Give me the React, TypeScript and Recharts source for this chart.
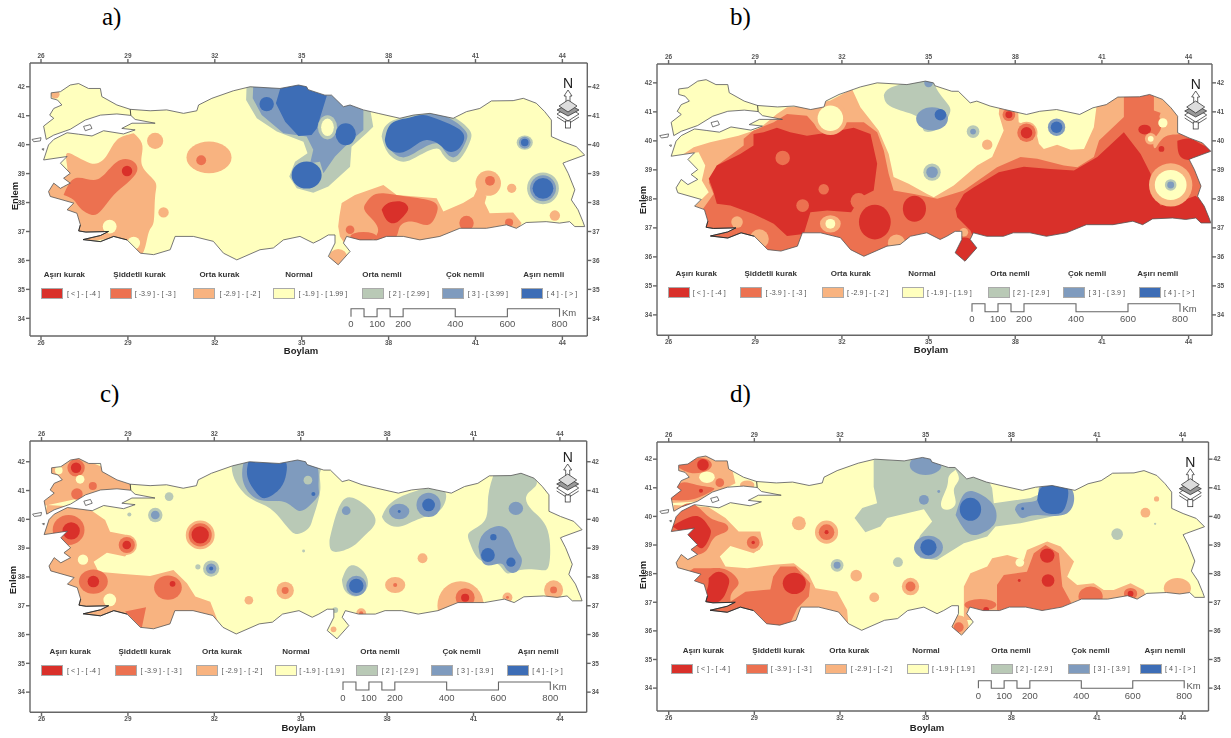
import React from 'react';
import { ComposedChart, XAxis, YAxis, Area, Line, Scatter } from 'recharts';

type Pt = [number, number];
type Cls = 'R' | 'D' | 'O' | 'N' | 'G' | 'M' | 'B';
type Region = { cls: Cls; pts: Pt[]; sharp?: boolean };
type Spot = [number, number, number, Cls, number?];

const COLORS: Record<Cls, string> = { R: '#D9302A', D: '#EC7150', O: '#F8B380', N: '#FFFFBE', G: '#B9C9B6', M: '#7F9BBE', B: '#3D6DB6' };
const LON_TICKS = [26, 29, 32, 35, 38, 41, 44];
const LAT_TICKS = [34, 35, 36, 37, 38, 39, 40, 41, 42];
const HEADERS = ['Aşırı kurak', 'Şiddetli kurak', 'Orta kurak', 'Normal', 'Orta nemli', 'Çok nemli', 'Aşırı nemli'];
const CLASS_ORDER: Cls[] = ['R', 'D', 'O', 'N', 'G', 'M', 'B'];
const LABELS_A = ['[ < ] - [ -4 ]', '[ -3.9 ] - [ -3 ]', '[ -2.9 ] - [ -2 ]', '[ -1.9 ] - [ 1.99 ]', '[ 2 ] - [ 2.99 ]', '[ 3 ] - [ 3.99 ]', '[ 4 ] - [ > ]'];
const LABELS_B = ['[ < ] - [ -4 ]', '[ -3.9 ] - [ -3 ]', '[ -2.9 ] - [ -2 ]', '[ -1.9 ] - [ 1.9 ]', '[ 2 ] - [ 2.9 ]', '[ 3 ] - [ 3.9 ]', '[ 4 ] - [ > ]'];
const LABELS_D = ['[ < ] - [ -4 ]', '[ -3.9 ] - [ -3 ]', '[ -2.9 ] - [ -2 ]', '[ -1.9 ]- [ 1.9 ]', '[ 2 ] - [ 2.9 ]', '[ 3 ] - [ 3.9 ]', '[ 4 ] - [ > ]'];
const SCALE_KM = [0, 50, 100, 150, 200, 400, 600, 800];
const SCALE_LABELS = [0, 100, 200, 400, 600, 800];

const COAST: Pt[] = [
  [26.09, 40.64], [26.44, 40.91], [26.3, 41.02], [26.44, 41.25], [26.72, 41.37], [26.57, 41.54], [26.35, 41.6], [26.35, 41.79], [26.67, 41.83], [27.01, 42.06], [27.3, 42.11], [27.64, 41.94], [28.05, 41.94], [28.1, 41.66], [28.62, 41.37], [29.08, 41.22], [29.77, 41.17], [30.34, 41.2], [30.92, 41.08], [31.38, 41.17], [31.44, 41.37], [31.9, 41.6], [32.64, 41.86], [33.22, 42.0], [34.25, 41.94], [34.89, 42.06], [35.17, 42.0], [35.22, 41.9], [35.8, 41.71], [36.03, 41.71], [36.44, 41.31], [36.67, 41.37], [37.13, 41.2], [37.64, 41.08], [38.39, 40.91], [38.85, 41.02], [39.43, 41.08], [40.23, 40.91], [40.69, 41.14], [41.15, 41.25], [41.55, 41.51], [42.3, 41.52], [42.65, 41.6], [43.1, 41.43], [43.39, 41.14], [43.62, 40.85], [43.62, 40.28], [44.02, 40.1], [44.48, 39.93], [44.77, 39.64],
  [44.14, 39.41], [44.02, 39.36], [44.2, 39.01], [44.43, 38.44], [44.31, 38.09], [44.54, 37.75], [44.71, 37.34], [44.77, 37.17], [44.43, 37.17], [44.25, 37.34], [43.9, 37.29], [43.44, 37.34], [42.75, 37.31], [42.41, 37.11], [42.07, 37.23], [41.38, 37.11], [40.46, 37.11], [39.77, 36.83], [39.08, 36.71], [38.51, 36.83], [37.93, 36.83], [37.59, 36.71], [37.01, 36.71], [36.55, 36.83], [36.44, 36.6], [36.67, 36.31], [36.26, 35.85], [35.92, 36.14], [36.15, 36.6], [36.15, 36.88], [35.92, 36.88], [35.63, 36.71], [35.4, 36.6], [34.94, 36.83], [34.37, 36.71], [34.02, 36.43], [33.56, 36.37], [32.76, 36.02], [32.3, 36.25], [31.95, 36.66], [31.26, 36.83], [30.63, 36.83], [30.46, 36.37], [29.89, 36.2], [29.43, 36.25], [28.97, 36.71], [28.51, 36.83], [28.05, 36.65], [27.45, 36.72], [28.05, 36.86], [28.33, 37.0], [27.55, 36.98], [27.3, 37.02], [27.36, 37.23], [27.24, 37.63], [26.9, 37.75], [27.13, 37.98], [26.32, 38.21], [26.26, 38.38], [26.44, 38.67], [26.67, 38.49], [26.78, 38.55], [27.01, 38.67], [26.78, 38.84], [27.01, 39.01], [26.67, 39.36], [26.9, 39.59], [26.09, 39.47], [26.26, 39.99], [26.44, 40.18], [26.9, 40.41], [27.3, 40.36], [27.76, 40.3], [28.16, 40.48], [28.85, 40.37], [29.25, 40.51], [28.79, 40.56], [29.14, 40.74], [29.94, 40.74], [29.25, 40.87], [29.1, 41.01], [28.62, 41.06], [28.05, 41.02], [27.53, 40.85], [27.01, 40.53], [26.44, 40.33], [26.18, 40.18],
];
const AEGEAN_DARK: Pt[] = [[28.97, 36.71], [28.51, 36.83], [28.05, 36.65], [27.45, 36.72], [28.05, 36.86], [28.33, 37.0], [27.55, 36.98], [27.3, 37.02], [27.36, 37.23]];
const BOSPHORUS: Pt[] = [[29.08, 41.22], [29.1, 41.01]];
const GOKCEADA: Pt[] = [[25.69, 40.18], [26.0, 40.24], [25.98, 40.13], [25.75, 40.1], [25.69, 40.18]];
const BOZCAADA: Pt[] = [[26.03, 39.85], [26.1, 39.86], [26.08, 39.8], [26.03, 39.85]];
const MARMARA_ISLE: Pt[] = [[27.47, 40.63], [27.7, 40.69], [27.76, 40.56], [27.53, 40.48], [27.47, 40.63]];
const MASK_FRAME: Pt[] = [[25.55, 42.9], [25.55, 35.75], [44.98, 35.75], [44.98, 42.9], [25.55, 42.9]];

const regionsA: Region[] = [
  { cls: 'O', pts: [[29.2, 40.39], [29.48, 40.05], [29.48, 39.64], [29.54, 39.18], [29.94, 38.72], [29.94, 38.21], [29.89, 37.34], [29.71, 36.94], [29.45, 36.2], [28.74, 36.71], [27.59, 36.71], [27.01, 37.4], [26.67, 37.98], [26.09, 38.32], [26.32, 38.78], [26.9, 39.01], [26.9, 39.7], [27.7, 39.36], [28.28, 39.64], [28.62, 40.16]] },
  { cls: 'D', pts: [[26.78, 38.26], [27.18, 38.84], [27.82, 38.78], [28.28, 39.07], [28.74, 39.47], [29.2, 39.41], [29.31, 39.07], [28.97, 38.67], [28.51, 38.26], [28.1, 37.75], [27.76, 37.57], [27.36, 37.8], [27.13, 38.09]] },
  { cls: 'O', pts: [[36.26, 37.17], [36.3, 37.52], [36.38, 37.98], [36.84, 38.26], [37.82, 38.61], [38.28, 38.26], [39.66, 38.15], [39.89, 37.69], [40.57, 37.98], [40.94, 38.21], [41.09, 38.55], [41.38, 38.21], [41.32, 37.98], [41.49, 37.63], [42.3, 37.66], [42.59, 37.29], [42.41, 36.94], [40.23, 36.71], [37.93, 36.48], [36.55, 36.48], [36.32, 36.83]], sharp: true },
  { cls: 'D', pts: [[37.18, 37.92], [37.41, 38.21], [37.82, 38.32], [38.62, 38.21], [39.54, 38.03], [39.66, 37.63], [39.37, 37.23], [38.85, 37.34], [38.39, 37.17], [38.16, 36.71], [37.47, 36.6], [37.64, 37.06], [37.24, 37.63]] },
  { cls: 'R', pts: [[37.76, 37.75], [37.99, 37.98], [38.45, 38.03], [38.68, 37.8], [38.51, 37.52], [38.22, 37.29], [37.93, 37.4]] },
  { cls: 'G', pts: [[33.1, 42.11], [33.08, 41.54], [33.45, 40.91], [34.14, 40.45], [35.06, 40.1], [35.2, 39.7], [34.77, 39.41], [34.57, 38.9], [34.83, 38.49], [35.4, 38.34], [35.92, 38.55], [36.67, 39.24], [36.72, 39.93], [37.24, 40.39], [37.47, 40.62], [37.36, 41.25], [35.63, 42.11]], sharp: true },
  { cls: 'M', pts: [[33.33, 42.11], [33.31, 41.6], [33.62, 41.02], [34.37, 40.39], [35.17, 40.28], [35.4, 39.82], [35.29, 39.36], [35.63, 39.41], [35.75, 39.01], [36.15, 39.59], [36.61, 40.05], [37.13, 40.51], [37.13, 41.2], [35.86, 42.11]], sharp: true },
  { cls: 'B', pts: [[34.31, 42.11], [34.11, 41.43], [34.43, 40.79], [34.89, 40.3], [35.34, 40.33], [35.52, 40.56], [35.86, 41.66], [35.86, 42.11]], sharp: true },
  { cls: 'G', pts: [[37.76, 40.28], [37.99, 40.74], [38.74, 41.02], [39.43, 41.14], [40.11, 41.02], [40.75, 40.56], [40.83, 40.16], [40.57, 39.64], [40.23, 39.39], [39.89, 39.64], [39.66, 39.87], [39.08, 39.64], [38.51, 39.41], [37.99, 39.7]] },
  { cls: 'M', pts: [[37.93, 40.22], [38.11, 40.64], [38.8, 40.94], [39.43, 41.06], [40.05, 40.94], [40.63, 40.51], [40.69, 40.16], [40.49, 39.76], [40.23, 39.56], [39.95, 39.76], [39.66, 40.05], [39.08, 39.82], [38.51, 39.56], [38.07, 39.82]] },
  { cls: 'B', pts: [[37.87, 40.16], [38.11, 40.74], [38.74, 40.94], [39.2, 41.02], [39.77, 40.85], [40.4, 40.56], [40.61, 40.22], [40.4, 39.84], [40.06, 39.76], [39.77, 39.99], [39.31, 40.16], [38.85, 39.93], [38.39, 39.72], [37.99, 39.87]] },
];
const spotsA: Spot[] = [
  [28.37, 37.17, 0.24, 'N'], [29.2, 36.6, 0.22, 'N'], [29.94, 40.13, 0.28, 'O'], [30.23, 37.66, 0.18, 'O'], [31.8, 39.56, 0.78, 'O', 0.55], [31.53, 39.46, 0.17, 'D'], [28.97, 39.09, 0.18, 'R'], [26.49, 41.74, 0.15, 'O'],
  [33.79, 41.4, 0.25, 'B'], [35.89, 40.6, 0.33, 'G', 0.42], [35.89, 40.6, 0.22, 'N', 0.3], [36.52, 40.36, 0.35, 'B', 0.38], [35.17, 38.95, 0.52, 'B', 0.47],
  [42.7, 40.07, 0.28, 'G', 0.25], [42.7, 40.07, 0.2, 'M'], [42.7, 40.07, 0.13, 'B'], [43.33, 38.49, 0.55, 'G'], [43.33, 38.49, 0.45, 'M'], [43.33, 38.49, 0.36, 'B'],
  [41.44, 38.67, 0.44, 'O'], [41.5, 38.75, 0.17, 'D'], [42.25, 38.49, 0.16, 'O'], [43.74, 37.55, 0.18, 'O'], [36.26, 36.08, 0.32, 'O'], [36.67, 37.06, 0.15, 'D'], [37.13, 36.83, 0.45, 'D', 0.15], [40.69, 37.29, 0.25, 'D'], [42.16, 37.31, 0.14, 'D'],
];

const regionsB: Region[] = [
  { cls: 'O', sharp: true, pts: [[26.52, 39.55], [26.87, 39.78], [27.44, 39.95], [28.42, 40.18], [29.12, 40.41], [29.75, 40.93], [30.1, 41.16], [30.91, 41.22], [31.6, 41.39], [32.35, 41.79], [32.64, 41.16], [33.27, 40.36], [33.62, 39.55], [33.79, 38.75], [34.31, 38.52], [34.95, 38.17], [35.18, 38.06], [35.87, 38.46], [36.68, 39.15], [37.2, 39.44], [37.6, 40.36], [37.43, 40.93], [37.49, 41.62], [38.07, 41.62], [38.12, 40.64], [38.7, 40.41], [38.82, 39.9], [38.99, 39.72], [39.45, 39.87], [39.92, 39.69], [40.38, 39.72], [40.72, 40.47], [40.87, 41.62], [44.85, 41.62], [44.85, 35.8], [26.2, 35.8], [26.87, 37.71], [27.39, 38.23], [27.15, 38.63], [27.27, 39.15], [27.04, 39.61]] },
  { cls: 'D', sharp: true, pts: [[28.6, 40.07], [28.94, 40.36], [29.64, 40.64], [30.1, 40.93], [30.79, 40.87], [31.25, 40.36], [32.06, 40.64], [32.76, 40.64], [33.22, 40.3], [33.45, 39.67], [33.62, 38.86], [33.79, 38.29], [34.49, 38.17], [35.3, 38], [36.22, 38.29], [37.37, 39.09], [38.18, 39.44], [38.76, 39.38], [39.68, 39.15], [40.15, 39.09], [40.72, 39.44], [40.9, 40.01], [41.76, 40.82], [41.76, 41.62], [42.8, 41.62], [42.8, 41.05], [44.76, 40.36], [44.85, 39], [44.85, 35.8], [26.2, 35.8], [27.15, 37.6], [27.56, 38.17], [27.39, 38.57], [27.67, 39.15], [28.6, 39.84]] },
  { cls: 'O', pts: [[42.99, 40.83], [43.17, 41.13], [43.63, 41.07], [44.03, 40.66], [43.89, 40.26], [43.2, 40.15], [42.85, 39.75], [42.8, 40.03], [43.03, 40.38]] },
  { cls: 'R', pts: [[27.39, 38.69], [27.67, 39.15], [28.48, 39.55], [28.94, 39.84], [28.94, 40.24], [29.29, 40.3], [29.75, 40.45], [30.21, 40.3], [30.79, 40.18], [31.6, 40.3], [32.41, 40.45], [32.99, 40.24], [33.22, 39.21], [33.1, 38.29], [32.64, 38.06], [32.32, 37.54], [31.49, 37.6], [30.91, 37.54], [30.68, 36.79], [30.1, 36.72], [29.64, 37.14], [28.94, 37.48], [28.14, 37.77], [27.67, 37.83], [27.54, 38.29]], sharp: true },
  { cls: 'R', sharp: true, pts: [[35.93, 37.66], [36.22, 38.17], [36.57, 38.4], [37.43, 38.92], [38.3, 39.11], [39.22, 39.03], [40.03, 38.98], [40.84, 39.44], [41.76, 40.3], [42.34, 39.55], [42.69, 38.86], [42.69, 38.29], [43.03, 37.77], [43.96, 38], [44.24, 38.11], [44.85, 37.6], [44.85, 35.99], [39.68, 35.99], [36.8, 35.99], [36.45, 36.91], [35.99, 37.37]] },
  { cls: 'R', pts: [[43.61, 40.0], [44.07, 40.07], [44.53, 39.84], [44.85, 39.67], [44.3, 39.38], [43.73, 39.44]] },
  { cls: 'G', pts: [[33.45, 41.56], [33.79, 41.87], [34.83, 42.14], [35.12, 42.14], [35.35, 41.68], [35.7, 41.22], [35.7, 40.87], [35.3, 40.41], [34.83, 40.36], [34.72, 40.76], [34.03, 41.05], [33.56, 41.28]] },
];
const spotsB: Spot[] = [
  [31.6, 40.78, 0.58, 'O'], [31.6, 40.78, 0.44, 'N'], [28.37, 37.2, 0.2, 'O'], [29.14, 36.62, 0.33, 'O'], [33.89, 36.47, 0.3, 'O'], [31.6, 37.14, 0.36, 'O', 0.3], [31.6, 37.14, 0.17, 'N'],
  [37.03, 39.87, 0.18, 'O'], [36.22, 36.85, 0.15, 'O'], [29.95, 39.41, 0.25, 'D'], [31.37, 38.33, 0.18, 'D'], [30.64, 37.77, 0.22, 'D'], [32.58, 37.92, 0.28, 'D'], [33.14, 37.2, 0.55, 'R', 0.6], [34.51, 37.66, 0.4, 'R', 0.45],
  [36.25, 36.25, 0.42, 'R'], [42.48, 40.39, 0.22, 'R', 0.17], [43.06, 39.72, 0.1, 'R'], [38.39, 40.28, 0.38, 'O'], [38.39, 40.28, 0.32, 'D'], [38.39, 40.28, 0.2, 'R'], [37.78, 40.9, 0.22, 'D'], [37.78, 40.9, 0.12, 'R'],
  [43.11, 40.62, 0.16, 'N'], [42.69, 40.07, 0.2, 'O'], [42.69, 40.07, 0.1, 'N'], [43.38, 38.48, 0.75, 'O'], [43.38, 38.48, 0.55, 'N', 0.52], [43.38, 38.48, 0.2, 'G'], [43.38, 38.48, 0.12, 'M'],
  [35.12, 40.76, 0.55, 'M', 0.4], [35.41, 40.9, 0.2, 'B'], [35, 42, 0.15, 'M'], [36.54, 40.32, 0.22, 'G'], [36.54, 40.32, 0.1, 'M'], [39.43, 40.47, 0.3, 'M'], [39.43, 40.47, 0.2, 'B'], [35.12, 38.92, 0.3, 'G'], [35.12, 38.92, 0.2, 'M'],
];

const regionsC: Region[] = [
  { cls: 'O', sharp: true, pts: [[25.95, 40.44], [26.07, 41.83], [27.23, 42.17], [28.38, 41.71], [29.08, 41.25], [29.08, 40.84], [27.81, 40.84]] },
  { cls: 'O', sharp: true, pts: [[26.19, 40.5], [27.57, 40.42], [28.21, 39.98], [28.38, 39.57], [28.96, 39.46], [29.25, 39.11], [28.9, 38.71], [28.27, 38.84], [27.81, 38.53], [27.98, 38.18], [28.85, 38.1], [29.77, 38.03], [30.58, 38.24], [31.05, 37.78], [31.34, 37.32], [31.86, 37.14], [32.15, 36.39], [30.7, 35.8], [26.07, 35.8], [25.95, 39.05]] },
  { cls: 'D', sharp: true, pts: [[28.9, 36.8], [29.63, 36.95], [29.48, 36.22], [29.08, 36.62]] },
  { cls: 'G', pts: [[32.61, 42.14], [32.69, 41.42], [33.25, 40.73], [33.94, 40.38], [34.52, 39.75], [34.89, 39.49], [35.27, 39.69], [35.44, 40.09], [35.68, 41.02], [35.7, 41.71], [35.56, 42.14]] },
  { cls: 'M', pts: [[33.07, 42.2], [32.99, 41.36], [33.53, 40.69], [34.4, 40.61], [34.92, 40.3], [35.33, 40.5], [35.62, 40.84], [35.62, 41.25], [35.27, 42.2]] },
  { cls: 'B', pts: [[33.22, 42.12], [33.15, 41.48], [33.48, 40.9], [33.82, 40.75], [34.29, 41.08], [34.5, 41.6], [34.34, 42.12]] },
  { cls: 'G', pts: [[36, 39.28], [36.14, 39.86], [36.43, 40.61], [36.95, 40.69], [37.59, 40.03], [37.24, 39.46], [36.78, 39.05], [36.14, 38.88]] },
  { cls: 'G', pts: [[37.82, 40.09], [38.11, 40.55], [38.92, 40.96], [39.96, 41.02], [39.84, 40.32], [39.15, 40.03], [38.45, 39.75], [37.99, 39.86]] },
  { cls: 'G', pts: [[36.43, 37.9], [36.72, 38.39], [37.18, 38.19], [37.32, 37.67], [36.95, 37.33], [36.55, 37.5]] },
  { cls: 'G', pts: [[41.75, 41.71], [42.74, 41.71], [43.2, 41.25], [42.85, 40.84], [43.03, 40.32], [43.57, 39.63], [43.63, 38.47], [43.31, 38.24], [42.62, 38.24], [42.16, 38.13], [41.81, 38.47], [41.23, 38.59], [40.88, 39.17], [40.88, 39.57], [41.4, 39.98], [41.51, 40.79]] },
  { cls: 'M', pts: [[41.17, 39.05], [41.35, 39.51], [41.87, 39.77], [42.27, 39.51], [42.5, 38.94], [42.68, 38.59], [42.5, 38.18], [42.16, 38.24], [41.93, 38.47], [41.41, 38.42]] },
];
const spotsC: Spot[] = [
  [26.6, 41.7, 0.13, 'N'], [27.2, 41.79, 0.3, 'D'], [27.2, 41.79, 0.18, 'R'], [27.34, 41.39, 0.15, 'N'], [27.78, 41.16, 0.14, 'D'], [27.23, 40.88, 0.2, 'D'], [27.44, 38.6, 0.18, 'N'], [28.37, 37.2, 0.22, 'N'],
  [26.94, 39.63, 0.55, 'D', 0.52], [27.03, 39.6, 0.3, 'R'], [28.96, 39.11, 0.35, 'O'], [28.96, 39.11, 0.28, 'D'], [28.96, 39.11, 0.15, 'R'], [27.8, 37.84, 0.5, 'D', 0.42], [27.8, 37.84, 0.2, 'R'], [30.39, 37.63, 0.48, 'D', 0.42], [30.55, 37.76, 0.1, 'R'],
  [31.51, 39.46, 0.5, 'O'], [31.51, 39.46, 0.4, 'D'], [31.51, 39.46, 0.3, 'R'], [34.46, 37.53, 0.3, 'O'], [34.46, 37.53, 0.12, 'D'], [33.2, 37.19, 0.15, 'O'],
  [29.95, 40.15, 0.25, 'G'], [29.95, 40.15, 0.15, 'M'], [30.43, 40.79, 0.15, 'G'], [29.05, 40.17, 0.07, 'G'], [31.89, 38.29, 0.28, 'G'], [31.89, 38.29, 0.18, 'M'], [31.89, 38.29, 0.07, 'B'], [31.43, 38.35, 0.09, 'G'], [35.1, 38.9, 0.05, 'G'],
  [35.25, 41.36, 0.15, 'G'], [35.44, 40.88, 0.07, 'B'], [36.58, 40.3, 0.15, 'M'], [38.42, 40.27, 0.35, 'M', 0.27], [38.42, 40.27, 0.05, 'B'], [39.44, 40.5, 0.42, 'M'], [39.44, 40.5, 0.22, 'B'],
  [39.23, 38.65, 0.17, 'O'], [38.28, 37.72, 0.35, 'O', 0.28], [38.28, 37.72, 0.07, 'D'], [36.93, 37.69, 0.35, 'M'], [36.93, 37.69, 0.25, 'B'],
  [40.55, 37.0, 0.8, 'O', 0.85], [40.71, 37.28, 0.33, 'D'], [40.71, 37.28, 0.14, 'R'], [42.18, 37.29, 0.17, 'O'], [42.18, 37.29, 0.05, 'D'], [43.78, 37.55, 0.33, 'O'], [43.78, 37.55, 0.12, 'D'], [37.1, 36.74, 0.17, 'O'], [37.1, 36.74, 0.07, 'D'], [36.14, 36.18, 0.1, 'O'], [36.2, 36.85, 0.1, 'G'],
  [41.5, 38.76, 0.24, 'B'], [41.69, 39.38, 0.11, 'B'], [42.3, 38.51, 0.16, 'B'], [42.47, 40.38, 0.25, 'M', 0.23],
];

const regionsD: Region[] = [
  { cls: 'O', sharp: true, pts: [[25.94, 40.46], [26.18, 41.86], [27, 42.21], [28.16, 41.92], [28.34, 41.16], [27.93, 40.95], [27, 40.52]] },
  { cls: 'D', pts: [[26.29, 41.74], [26.99, 42.03], [27.46, 41.92], [27.4, 41.63], [26.82, 41.51]] },
  { cls: 'D', pts: [[26, 40.58], [26.41, 41.16], [26.99, 41.1], [27.58, 40.99], [27.34, 40.79], [26.76, 40.58]] },
  { cls: 'O', sharp: true, pts: [[26.18, 40.4], [27.4, 40.32], [27.99, 39.94], [28.45, 39.47], [29.21, 39.47], [29.31, 39], [28.98, 38.71], [28.16, 38.97], [27.79, 38.6], [27.99, 38.25], [28.75, 38.19], [29.68, 38.31], [30.38, 38.36], [30.91, 37.96], [31.14, 37.49], [31.9, 37.37], [32.25, 36.73], [32.31, 36.03], [25.82, 36.03], [25.94, 38.71]] },
  { cls: 'D', pts: [[26, 39.65], [26.41, 40.32], [26.93, 40.4], [27.46, 39.94], [27.99, 39.74], [28.02, 39.47], [27.58, 39.24], [27.28, 38.77], [26.64, 38.77]] },
  { cls: 'D', pts: [[26.88, 38.19], [27.46, 38.19], [28.04, 38.13], [28.45, 37.66], [28.16, 37.14], [28.16, 36.38], [26.88, 36.85], [26.53, 37.78]] },
  { cls: 'D', sharp: true, pts: [[28.16, 37.02], [28.69, 37.37], [29.56, 37.45], [29.66, 37.9], [29.91, 38.25], [30.44, 38.25], [30.96, 37.66], [30.91, 37.2], [30.5, 36.79], [30.26, 36.27], [29.33, 35.92], [28.16, 36.15]] },
  { cls: 'R', pts: [[26.12, 39.65], [26.52, 39.88], [27.05, 40], [27.4, 39.65], [27.46, 39.35], [27.17, 38.89], [26.82, 39.18], [26.53, 39.41]] },
  { cls: 'R', pts: [[27.4, 37.84], [27.75, 38.07], [28.1, 37.84], [28.04, 37.43], [27.75, 37.02], [27.23, 36.99], [27.34, 37.43]] },
  { cls: 'G', sharp: true, pts: [[33.18, 42.21], [33.18, 41.04], [33.3, 40.46], [32.78, 40.29], [32.51, 39.94], [32.89, 39.45], [33.42, 39.65], [33.65, 39.94], [34.35, 40.11], [34.94, 40.25], [35.23, 39.82], [34.82, 39.35], [34.59, 38.89], [34.82, 38.54], [35.4, 38.48], [36.34, 39.06], [37.16, 39.3], [37.45, 39.65], [38.32, 39.76], [39.96, 40.11], [40.13, 40.93], [39.61, 41.04], [38.68, 40.64], [37.39, 40.46], [37.33, 40.98], [37.04, 41.63], [35.93, 42.21]] },
  { cls: 'N', pts: [[36.05, 41.63], [36.16, 41.28], [35.99, 40.93], [36.05, 40.46], [35.75, 40.23], [35.54, 40.46], [35.75, 41.04], [35.81, 41.39]] },
  { cls: 'M', pts: [[36.05, 40.05], [36.28, 40.69], [36.69, 40.87], [37.33, 40.46], [37.48, 39.94], [37.27, 39.59], [36.69, 39.35], [36.28, 39.65]] },
  { cls: 'M', pts: [[38.13, 40.23], [38.33, 40.46], [38.91, 40.58], [38.97, 40.99], [39.44, 41.1], [40.13, 40.93], [39.96, 40.11], [38.91, 40.05], [38.38, 39.94]] },
  { cls: 'B', pts: [[38.91, 40.58], [39.03, 40.99], [39.44, 41.1], [39.96, 40.99], [39.9, 40.35], [39.61, 40.09], [39.14, 40.17]] },
  { cls: 'O', sharp: true, pts: [[36.34, 37.55], [36.57, 38.01], [37.16, 38.25], [37.33, 38.54], [37.86, 38.65], [38.44, 38.48], [38.55, 38.83], [39.26, 39.12], [39.73, 38.95], [40.2, 38.42], [39.96, 37.89], [40.31, 37.6], [40.89, 37.66], [41.24, 37.43], [41.59, 37.43], [42.18, 37.66], [42.64, 37.43], [42.76, 37.08], [39.84, 36.38], [36.34, 36.38]] },
  { cls: 'D', sharp: true, pts: [[37.5, 37.6], [37.74, 37.95], [38.55, 38.07], [38.79, 38.71], [39.2, 39], [39.67, 38.71], [39.73, 38.13], [39.79, 37.55], [40.08, 37.02], [40.2, 36.38], [38.09, 36.27], [37.5, 36.73]] },
];
const spotsD: Spot[] = [
  [27.2, 41.8, 0.2, 'R'], [27.34, 41.37, 0.27, 'N', 0.2], [27.79, 41.18, 0.15, 'D'], [28.75, 41.1, 0.25, 'O', 0.15], [27.13, 40.9, 0.07, 'R'], [30.4, 37.66, 0.4, 'R', 0.37],
  [28.96, 39.09, 0.33, 'O'], [28.96, 39.09, 0.22, 'D'], [28.96, 39.09, 0.06, 'R'], [31.53, 39.45, 0.4, 'O'], [31.53, 39.45, 0.27, 'D'], [31.53, 39.45, 0.07, 'R'], [30.56, 39.76, 0.24, 'O'], [32.57, 37.93, 0.2, 'O'], [33.2, 37.17, 0.17, 'O'], [34.47, 37.55, 0.3, 'O'], [34.47, 37.55, 0.17, 'D'],
  [31.9, 38.29, 0.22, 'G'], [31.9, 38.29, 0.12, 'M'], [34.03, 38.4, 0.17, 'G'], [35, 41.8, 0.55, 'M', 0.35], [34.94, 40.58, 0.17, 'M'], [35.46, 40.87, 0.05, 'M'], [36.57, 40.25, 0.37, 'B', 0.4], [38.4, 40.27, 0.05, 'B'],
  [35.1, 38.92, 0.5, 'M', 0.4], [35.1, 38.92, 0.28, 'B'], [41.71, 39.38, 0.2, 'G'], [42.7, 40.13, 0.17, 'O'], [43.09, 40.61, 0.09, 'O'], [43.04, 39.74, 0.04, 'G'],
  [38.3, 38.39, 0.15, 'N'], [40.78, 37.2, 0.42, 'D', 0.35], [42.18, 37.3, 0.23, 'D', 0.2], [42.18, 37.3, 0.1, 'R'], [36.92, 36.91, 0.55, 'D', 0.2], [37.12, 36.73, 0.1, 'R'], [39.26, 38.63, 0.25, 'R'], [39.29, 37.76, 0.22, 'R'], [38.28, 37.76, 0.05, 'R'],
  [43.82, 37.49, 0.47, 'O', 0.35], [36.16, 36.2, 0.34, 'O'], [36.16, 36.13, 0.17, 'D'],
];

const M = 24;
const BAND_BASE = 38;
const row = ([lon, lat]: Pt) => ({ lon, band: [BAND_BASE, lat] });
const closed = (pts: Pt[]) => [...pts, pts[0]].map(row);
const line = (pts: Pt[]) => pts.map(([lon, lat]) => ({ lon, lat }));
const maskRows = [...MASK_FRAME, ...COAST, COAST[0], MASK_FRAME[0]].map(row);
const landRows = closed(COAST);

type Cfg = {
  title: string; titleX: number; titleY: number;
  l: number; r: number; t: number; b: number;
  xd: [number, number]; yd: [number, number];
  headers: number[]; headerY: number; swatch: number[]; swatchY: [number, number]; labelX: number[]; labelY: number; labels: string[];
  km0: number; km800: number; barTop: number; barBottom: number; kmLabelY: number; kmX: number; kmY: number;
  boylam: [number, number]; enlem: [number, number]; north: [number, number];
};

const CFG: Cfg[] = [
  { title: 'a)', titleX: 102, titleY: 3, l: 29.7, r: 587, t: 63, b: 336, xd: [25.62, 44.86], yd: [33.39, 42.82], headers: [64.4, 139.6, 219.4, 299, 382, 465, 543.7], headerY: 275, swatch: [41.4, 109.5, 193.4, 272.8, 362.4, 442, 521], swatchY: [288.3, 299], labelX: [67, 134.7, 219.4, 298.4, 388.7, 467.7, 546.7], labelY: 294, labels: LABELS_A, km0: 351, km800: 559.5, barTop: 308.7, barBottom: 316.7, kmLabelY: 324.3, kmX: 562, kmY: 313, boylam: [301, 351], enlem: [15, 196], north: [568, 83] },
  { title: 'b)', titleX: 730, titleY: 3, l: 656.5, r: 1211.5, t: 63.5, b: 334.7, xd: [25.6, 44.81], yd: [33.3, 42.65], headers: [696.2, 770.7, 850.8, 922, 1010, 1087, 1157.8], headerY: 274, swatch: [667.6, 740, 821.9, 902, 987.8, 1063, 1139.4], swatchY: [286.7, 297.7], labelX: [692.8, 765.4, 847, 927, 1013, 1088.6, 1164], labelY: 293, labels: LABELS_B, km0: 972, km800: 1180, barTop: 303.7, barBottom: 311.7, kmLabelY: 319.3, kmX: 1182.5, kmY: 309, boylam: [931, 350], enlem: [642.7, 200], north: [1195.7, 84] },
  { title: 'c)', titleX: 100, titleY: 380, l: 29.7, r: 586.4, t: 441, b: 712.3, xd: [25.6, 44.93], yd: [33.3, 42.72], headers: [70.2, 144.7, 222, 296, 380, 461.5, 538.2], headerY: 651.7, swatch: [41.2, 115.3, 196.2, 274.5, 356, 431.4, 507.4], swatchY: [664.7, 675.7], labelX: [67, 140.5, 221.4, 299.3, 381.7, 457, 532.2], labelY: 670.7, labels: LABELS_B, km0: 343, km800: 550.3, barTop: 682, barBottom: 690, kmLabelY: 697.7, kmX: 552.5, kmY: 687, boylam: [298.6, 728], enlem: [13, 580], north: [567.7, 457] },
  { title: 'd)', titleX: 730, titleY: 380, l: 656.5, r: 1208, t: 442, b: 711, xd: [25.59, 44.91], yd: [33.2, 42.6], headers: [703.4, 778.6, 849.3, 926, 1011, 1090.5, 1165], headerY: 651, swatch: [671.4, 745.5, 825.3, 907.3, 990.8, 1068, 1139.8], swatchY: [663.7, 674.3], labelX: [697, 770.7, 850.8, 932, 1016, 1093.5, 1165], labelY: 669.3, labels: LABELS_D, km0: 978.4, km800: 1184.2, barTop: 680.7, barBottom: 688.3, kmLabelY: 696, kmX: 1186.5, kmY: 686, boylam: [927, 728], enlem: [642.7, 575], north: [1190.3, 461.7] },
];

const tickStyle = { fontSize: 6.5, fontFamily: 'Liberation Sans', fontWeight: 700, fill: '#555' };
const axisLine = { stroke: '#666', strokeWidth: 1.4 };

const Txt = ({ x, y, anchor = 'left', style, children }: any) => (
  <div style={{ position: 'absolute', left: x, top: y, transform: `translate(${anchor === 'center' ? '-50%' : '0'},-50%)`, whiteSpace: 'nowrap', fontFamily: 'Liberation Sans', lineHeight: 1, ...style }}>{children}</div>
);

function spotShape(props: any) {
  const { cx, cy, payload } = props;
  return <ellipse cx={cx} cy={cy} rx={payload.rx * 28.9} ry={payload.ry * 28.9} fill={COLORS[payload.cls as Cls]} />;
}

function MapPanel({ cfg, regions, spots }: { cfg: Cfg; regions: Region[]; spots: Spot[] }) {
  const w = cfg.r - cfg.l + 2 * M;
  const h = cfg.b - cfg.t + 2 * M;
  const spotRows = spots.map(([lon, lat, r, cls, ry]) => ({ lon, lat, rx: r, ry: ry ?? r, cls }));
  const kmX = (km: number) => cfg.km0 + (km / 800) * (cfg.km800 - cfg.km0);
  const barPts: string[] = [];
  SCALE_KM.forEach((km, i) => {
    if (i === SCALE_KM.length - 1) return;
    const y = i % 2 === 0 ? cfg.barTop : cfg.barBottom;
    if (i === 0) barPts.push(`${kmX(km)},${cfg.barBottom}`);
    barPts.push(`${kmX(km)},${y}`, `${kmX(SCALE_KM[i + 1])},${y}`);
  });
  barPts.push(`${cfg.km800},${cfg.barTop}`, `${cfg.km800},${cfg.barBottom}`);
  const [nx, ny] = cfg.north;
  return (
    <>
      <div style={{ position: 'absolute', left: cfg.titleX, top: cfg.titleY, fontFamily: 'Liberation Serif', fontSize: 25, lineHeight: '28px', color: '#000' }}>{cfg.title}</div>
      <div style={{ position: 'absolute', left: 0, top: 0, width: 1231, height: 738, filter: 'blur(0.45px)' }}>
        <div style={{ position: 'absolute', left: cfg.l - M, top: cfg.t - M }}>
          <ComposedChart width={w} height={h} margin={{ top: M, right: M, bottom: M, left: M }}>
            <XAxis type="number" dataKey="lon" domain={cfg.xd} allowDataOverflow hide />
            <YAxis type="number" dataKey="lat" domain={cfg.yd} allowDataOverflow hide />
            <Area data={landRows} dataKey="band" type="linear" stroke="none" fill={COLORS.N} fillOpacity={1} dot={false} activeDot={false} isAnimationActive={false} />
            {regions.map((rg, i) => (
              <Area key={i} data={closed(rg.pts)} dataKey="band" type={rg.sharp ? 'linear' : 'natural'} stroke="none" fill={COLORS[rg.cls]} fillOpacity={1} dot={false} activeDot={false} isAnimationActive={false} />
            ))}
            <Scatter data={spotRows} shape={spotShape} isAnimationActive={false} />
          </ComposedChart>
        </div>
        <div style={{ position: 'absolute', left: cfg.l - M, top: cfg.t - M }}>
          <ComposedChart width={w} height={h} margin={{ top: 0, right: 0, bottom: 0, left: 0 }}>
            <XAxis xAxisId="b" type="number" dataKey="lon" orientation="bottom" height={M} domain={cfg.xd} ticks={LON_TICKS} interval={0} allowDataOverflow tick={tickStyle} axisLine={axisLine} tickLine={axisLine} tickSize={4} tickMargin={0} />
            <XAxis xAxisId="t" type="number" dataKey="lon" orientation="top" height={M} domain={cfg.xd} ticks={LON_TICKS} interval={0} allowDataOverflow tick={tickStyle} axisLine={axisLine} tickLine={axisLine} tickSize={4} tickMargin={1} />
            <YAxis yAxisId="l" type="number" dataKey="lat" orientation="left" width={M} domain={cfg.yd} ticks={LAT_TICKS} interval={0} allowDataOverflow tick={tickStyle} axisLine={axisLine} tickLine={axisLine} tickSize={4} tickMargin={1} />
            <YAxis yAxisId="r" type="number" dataKey="lat" orientation="right" width={M} domain={cfg.yd} ticks={LAT_TICKS} interval={0} allowDataOverflow tick={tickStyle} axisLine={axisLine} tickLine={axisLine} tickSize={4} tickMargin={1} />
            <Area xAxisId="b" yAxisId="l" data={maskRows} dataKey="band" type="linear" stroke="none" fill="#fff" fillOpacity={1} dot={false} activeDot={false} isAnimationActive={false} />
            {[COAST.concat([COAST[0]]), GOKCEADA, BOZCAADA, MARMARA_ISLE].map((pts, i) => (
              <Line key={i} xAxisId="b" yAxisId="l" data={line(pts)} dataKey="lat" type="linear" stroke="#555" strokeWidth={0.8} dot={false} activeDot={false} isAnimationActive={false} />
            ))}
            {[AEGEAN_DARK, BOSPHORUS].map((pts, i) => (
              <Line key={i} xAxisId="b" yAxisId="l" data={line(pts)} dataKey="lat" type="linear" stroke="#222" strokeWidth={0.8} dot={false} activeDot={false} isAnimationActive={false} />
            ))}
          </ComposedChart>
        </div>
        {HEADERS.map((t, i) => (
          <Txt key={t} x={cfg.headers[i]} y={cfg.headerY} anchor="center" style={{ fontSize: 8, fontWeight: 700, color: '#333' }}>{t}</Txt>
        ))}
        {CLASS_ORDER.map((c, i) => (
          <div key={c} style={{ position: 'absolute', left: cfg.swatch[i], top: cfg.swatchY[0], width: 22, height: cfg.swatchY[1] - cfg.swatchY[0], background: COLORS[c], boxSizing: 'border-box', border: '1px solid #aaa' }} />
        ))}
        {cfg.labels.map((t, i) => (
          <Txt key={i} x={cfg.labelX[i]} y={cfg.labelY} style={{ fontSize: 7.2, color: '#555' }}>{t}</Txt>
        ))}
        <svg width={1231} height={738} style={{ position: 'absolute', left: 0, top: 0 }}>
          <polyline points={barPts.join(' ')} fill="none" stroke="#666" strokeWidth={1.1} />
          <g transform={`translate(${nx},${ny})`} stroke="#222" strokeWidth={0.7} fill="#fff">
            <polygon points="0,7 -4,13 -2,13 -2,20 2,20 2,13 4,13" />
            <polygon points="0,24 11,31 0,38 -11,31" fill="#fff" />
            <polygon points="0,21 11,27 0,33 -11,27" fill="#999" />
            <polygon points="0,17 9,23 0,29 -9,23" fill="#ddd" />
            <polyline points="-11,34 0,41 11,34" fill="none" />
            <rect x={-2.5} y={38} width={5} height={7} />
          </g>
        </svg>
        <Txt x={nx} y={ny} anchor="center" style={{ fontSize: 14, color: '#222' }}>N</Txt>
        {SCALE_LABELS.map((km) => (
          <Txt key={km} x={kmX(km)} y={cfg.kmLabelY} anchor="center" style={{ fontSize: 9.5, color: '#555' }}>{km}</Txt>
        ))}
        <Txt x={cfg.kmX} y={cfg.kmY} style={{ fontSize: 9.5, color: '#555' }}>Km</Txt>
        <Txt x={cfg.boylam[0]} y={cfg.boylam[1]} anchor="center" style={{ fontSize: 9.5, fontWeight: 700, color: '#222' }}>Boylam</Txt>
        <div style={{ position: 'absolute', left: cfg.enlem[0], top: cfg.enlem[1], transform: 'translate(-50%,-50%) rotate(-90deg)', fontFamily: 'Liberation Sans', fontSize: 9.5, fontWeight: 700, color: '#222', lineHeight: 1 }}>Enlem</div>
      </div>
    </>
  );
}

export default function App() {
  return (
    <div style={{ position: 'absolute', left: 0, top: 0, width: 1231, height: 738, background: '#fff', overflow: 'hidden' }}>
      <MapPanel cfg={CFG[0]} regions={regionsA} spots={spotsA} />
      <MapPanel cfg={CFG[1]} regions={regionsB} spots={spotsB} />
      <MapPanel cfg={CFG[2]} regions={regionsC} spots={spotsC} />
      <MapPanel cfg={CFG[3]} regions={regionsD} spots={spotsD} />
    </div>
  );
}
